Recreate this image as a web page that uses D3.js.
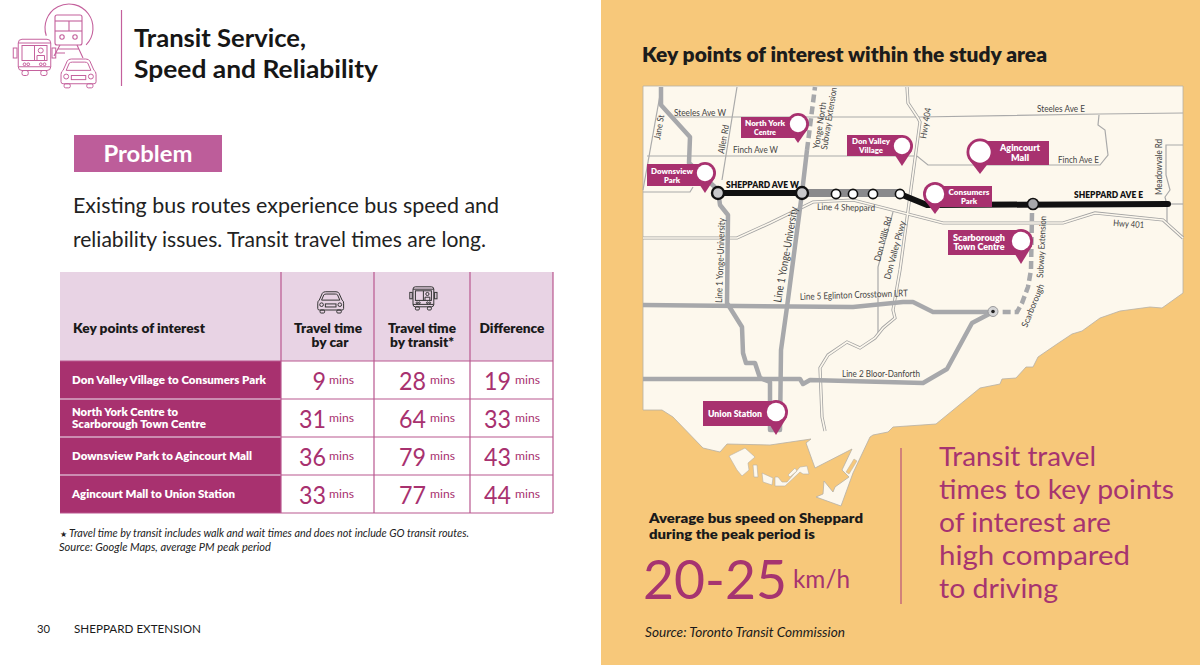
<!DOCTYPE html>
<html>
<head>
<meta charset="utf-8">
<title>Transit Service, Speed and Reliability</title>
<script src="https://cdn.jsdelivr.net/npm/d3@7/dist/d3.min.js"></script>
<style>
  html, body { margin: 0; padding: 0; background: #fff; }
  svg { display: block; }
  text { font-family: Lato, "Open Sans", sans-serif; }
</style>
</head>
<body>
<div id="chart"></div>
<script>
// table data
const routes = [
  'Don Valley Village to Consumers Park',
  'North York Centre to\nScarborough Town Centre',
  'Downsview Park to Agincourt Mall',
  'Agincourt Mall to Union Station'
]
const carMins = [9, 31, 36, 33]
const transitMins = [28, 64, 79, 77]
const diffMins = [19, 33, 43, 44]
const columns = ['route', 'car', 'transit', 'diff']

// map geometry, in map units
const land = [[643,86],[1183,86],[1183,293],[1162,308],[1150,307],[1120,311],[1100,318],[1082,331],[1072,334],[1057,344],[1038,357],[1033,367],[1026,367],[1016,378],[1002,379],[1000,384],[980,388],[936,424],[893,427],[888,432],[873,435],[870,437],[853,473],[841,506],[816,497],[823,494],[824,481],[833,492],[835,487],[849,477],[842,470],[852,449],[815,468],[806,443],[811,439],[770,445],[727,444],[720,452],[703,448],[673,417],[662,410],[643,410]]
const islands = [
  [[729,456],[745,448],[755,457],[748,463],[749,470],[742,476],[737,470]],
  [[753,465],[757,465],[758,477],[754,477]],
  [[762,473],[773,478],[772,485],[763,482]],
  [[775,477],[778,477],[782,482],[787,482],[800,467],[807,466],[809,474],[803,474],[800,472],[785,486],[775,486]],
  [[788,475],[795,468],[797,471],[790,477]]
]
const spitSlit = [[846,472],[854,459],[857,461],[849,474]]
const thinRoads = [
  [[673,117],[920,117],[1100,114],[1183,113]],
  [[647,156],[917,156],[928,165],[1100,165],[1108,155],[1107,147],[1105,130],[1098,125],[1099,115]],
  [[643,190],[660,95]],
  [[737,87],[722,180]],
  [[643,192],[690,192],[693,187]],
  [[893,212],[878,267],[878,335]],
  [[1183,145],[1166,145],[1166,175],[1170,190],[1165,197],[1167,205],[1167,222]],
  [[1167,204],[1183,204]]
]
const highways = [
  [[907,87],[908,103],[918,118],[920,122],[900,270],[893,310],[895,318],[883,328],[875,338],[860,348],[847,342],[828,355],[820,368],[822,417],[825,431]],
  [[643,238],[737,238],[770,223],[813,202],[853,200],[943,223],[1063,223],[1095,213],[1163,220],[1183,238]]
]
const subwayLines = [
  [[661,87],[661,105],[690,137],[689,163],[718,190],[720,205],[728,215],[727,303],[742,327],[743,353],[746,363],[755,363],[760,378],[770,382],[770,430],[780,430],[781,350],[787,307],[802,193],[807,150]],
  [[643,305],[853,307],[903,302],[913,302],[933,312],[993,312]],
  [[643,379],[800,379],[803,384],[810,380],[923,383],[947,369],[972,323],[993,312]]
]
const sheppardGrey = [[802,193],[900,193]]
const plannedLines = [
  [[807,150],[815,87]],
  [[1032,213],[1031,270],[1028,287],[1022,303],[1017,312],[1000,312]]
]
const sheppardNow = [
  [[718,193],[802,193]],
  [[900,194],[927,205],[1168,204]]
]
const openStations = [[836,194],[853,194],[873,194],[900,194]]
const majorStations = [[718,193],[802,193]]

const pinNames = ['North York\nCentre', 'Don Valley\nVillage', 'Downsview\nPark', 'Agincourt\nMall', 'Consumers\nPark', 'Scarborough\nTown Centre', 'Union Station']
const pinBoxes = [[741,117,797,138],[847,135,903,156],[647,164,705,186],[980,141,1049,165],[935,186,992,207],[948,230,1020,255],[703,401,775,426]]
const pinHeads = [[798,124,11],[902,146,11],[705,173,11],[980,152,13.5],[935,194,12],[1021,241,12],[776,412,12]]
const pinTips = [143, 166, 193, 174, 214, 264, 435]
const pinTextX = [765, 871, 672, 1020, 969, 979, 735]
const pinTextW = [[40, 22], [38, 24], [42, 16], [40, 18], [41, 16], [52, 51], [54]]

// name, x, y, rotate, size, weight, width
const mapLabels = [
  ['Steeles Ave W', 674, 116, 0, 9, 400, 52],
  ['Finch Ave W', 733, 153, 0, 9, 400, 45],
  ['Jane St', 660, 140, -80, 9, 400, 25],
  ['Allen Rd', 724, 154, -80, 9, 400, 29],
  ['Yonge North', 819, 149, -81, 9, 400, 47],
  ['Subway Extension', 827, 150, -81, 9, 400, 63],
  ['Line 1 Yonge-University', 722, 303, -88, 9.5, 400, 85],
  ['Line 1 Yonge-University', 781, 303, -80, 11, 400, 97],
  ['Line 4 Sheppard', 817, 210, 1, 9, 400, 58],
  ['SHEPPARD AVE W', 726, 188, 0, 9, 800, 73],
  ['Don Mills Rd', 880, 262, -75, 9, 400, 46],
  ['Don Valley Pkwy', 890, 280, -75, 9, 400, 60],
  ['Hwy 404', 926, 139, -80, 9, 400, 31],
  ['Steeles Ave E', 1037, 112, 0, 9, 400, 48],
  ['Finch Ave E', 1058, 163, 0, 9, 400, 41],
  ['SHEPPARD AVE E', 1074, 198, 0, 9, 800, 69],
  ['Hwy 401', 1113, 226, 4, 9, 400, 31],
  ['Meadowvale Rd', 1162, 195, -90, 9, 400, 56],
  ['Scarborough', 1027, 328, -68, 9, 400, 46],
  ['Subway Extension', 1043, 278, -87, 9, 400, 62],
  ['Line 5 Eglinton Crosstown LRT', 800, 300, -2, 9.5, 400, 108],
  ['Line 2 Bloor-Danforth', 842, 377, 0, 9.5, 400, 78]
]

const bigText = ['Transit travel', 'times to key points', 'of interest are', 'high compared', 'to driving']

const magenta = '#a8316f', rule = '#b9588f', orange = '#f7c87a', cream = '#fdf8ed', lineGrey = '#a7a8ab'

const svg = d3.select('#chart').append('svg').attr('width', 1200).attr('height', 665)
svg.append('rect').attr('x', 601).attr('y', 0).attr('width', 599).attr('height', 665).attr('fill', orange)

// little text helper, w = wanted width in px
function txt(p, x, y, s, o) {
  o = o || {}
  let t = p.append('text').attr('x', x).attr('y', y).text(s)
    .attr('font-size', o.size || 12)
    .attr('font-weight', o.weight || 400)
    .attr('font-style', o.style || 'normal')
    .attr('fill', o.fill || '#1a1a1a')
    .attr('text-anchor', o.anchor || 'start')
  if (o.w) t.attr('textLength', o.w).attr('lengthAdjust', 'spacingAndGlyphs')
  if (o.rotate) t.attr('transform', 'rotate(' + o.rotate + ' ' + x + ' ' + y + ')')
  return t
}

// icons, drawn in a 36 x 32 box
function busIcon(p, x, y, k, c) {
  let g = p.append('g').attr('transform', 'translate(' + x + ',' + y + ') scale(' + k + ')')
    .attr('fill', 'none').attr('stroke', c).attr('stroke-width', 1.1 / k * 0.9)
  g.append('rect').attr('x', 5).attr('y', 1).attr('width', 26).attr('height', 25).attr('rx', 3)
  g.append('line').attr('x1', 5).attr('x2', 31).attr('y1', 4).attr('y2', 4)
  g.append('rect').attr('x', 8).attr('y', 6).attr('width', 20).attr('height', 12)
  g.append('line').attr('x1', 18).attr('x2', 18).attr('y1', 6).attr('y2', 18)
  g.append('circle').attr('cx', 23).attr('cy', 10).attr('r', 2)
  g.append('path').attr('d', 'M20,18v-4h6v4')
  g.append('rect').attr('x', 1).attr('y', 8).attr('width', 3).attr('height', 8)
  g.append('rect').attr('x', 32).attr('y', 8).attr('width', 3).attr('height', 8)
  g.append('line').attr('x1', 5).attr('x2', 31).attr('y1', 23).attr('y2', 23)
  ;[10, 13, 23, 26].forEach(d => g.append('circle').attr('cx', d).attr('cy', 21).attr('r', 1.1))
  g.append('rect').attr('x', 8).attr('y', 26).attr('width', 5).attr('height', 4).attr('rx', 1.5)
  g.append('rect').attr('x', 23).attr('y', 26).attr('width', 5).attr('height', 4).attr('rx', 1.5)
}
function carIcon(p, x, y, k, c) {
  let g = p.append('g').attr('transform', 'translate(' + x + ',' + y + ') scale(' + k + ')')
    .attr('fill', 'none').attr('stroke', c).attr('stroke-width', 1.1 / k * 0.9)
  g.append('path').attr('d', 'M3,12 L7,3 Q8,1 11,1 H25 Q28,1 29,3 L33,12 Q35,13 35,16 V23 Q35,25 33,25 H3 Q1,25 1,23 V16 Q1,13 3,12 Z')
  g.append('path').attr('d', 'M6,12 L9,5 Q10,4 12,4 H24 Q26,4 27,5 L30,12 Z')
  g.append('circle').attr('cx', 6).attr('cy', 18).attr('r', 2.4)
  g.append('circle').attr('cx', 30).attr('cy', 18).attr('r', 2.4)
  g.append('rect').attr('x', 11).attr('y', 17).attr('width', 14).attr('height', 4)
  g.append('rect').attr('x', 4).attr('y', 25).attr('width', 6).attr('height', 4).attr('rx', 1.5)
  g.append('rect').attr('x', 26).attr('y', 25).attr('width', 6).attr('height', 4).attr('rx', 1.5)
}

// header of the left page
const pink = '#c4609c'
let head = svg.append('g').attr('fill', 'none').attr('stroke', pink).attr('stroke-width', 1.1)
head.append('path').attr('d', d3.arc()({ innerRadius: 24, outerRadius: 24, startAngle: -1.9, endAngle: 2.35 })).attr('transform', 'translate(69,28)')
head.append('rect').attr('x', 55).attr('y', 15).attr('width', 27).attr('height', 30).attr('rx', 2)
head.append('line').attr('x1', 55).attr('x2', 82).attr('y1', 21).attr('y2', 21)
head.append('line').attr('x1', 55).attr('x2', 82).attr('y1', 31).attr('y2', 31)
head.append('line').attr('x1', 69).attr('x2', 69).attr('y1', 21).attr('y2', 31)
head.append('circle').attr('cx', 62).attr('cy', 37).attr('r', 2.2)
head.append('circle').attr('cx', 75).attr('cy', 37).attr('r', 2.2)
head.append('path').attr('d', 'M60,45 L54,56 M77,45 L83,58 M58,49 H79 M56,53 H65')
busIcon(svg, 12, 38, 1.25, pink)
svg.append('rect').attr('x', 60).attr('y', 58).attr('width', 37).attr('height', 30).attr('fill', '#fff')
carIcon(svg, 60, 58, 1.03, pink)
svg.append('line').attr('x1', 121.5).attr('x2', 121.5).attr('y1', 10).attr('y2', 86).attr('stroke', pink).attr('stroke-width', 1.2)
txt(svg, 134, 47, 'Transit Service,', { size: 25, weight: 700, w: 172, fill: '#161616' })
txt(svg, 134, 78, 'Speed and Reliability', { size: 25, weight: 700, w: 244, fill: '#161616' })

svg.append('rect').attr('x', 74).attr('y', 135).attr('width', 148).attr('height', 37).attr('fill', '#bd5d9a')
txt(svg, 148, 162, 'Problem', { size: 22, weight: 700, fill: '#fff', anchor: 'middle', w: 89 })

txt(svg, 73, 213, 'Existing bus routes experience bus speed and', { size: 21, w: 426, fill: '#222' })
txt(svg, 73, 247, 'reliability issues. Transit travel times are long.', { size: 21, w: 413, fill: '#222' })

// table
const colX = d3.scaleOrdinal().domain(columns).range([60, 281, 374, 470])
const colEnd = 553
const rowY = d3.scaleBand().domain(routes).range([361, 513])
const table = svg.append('g')
table.append('rect').attr('x', 60).attr('y', 272).attr('width', colEnd - 60).attr('height', 89).attr('fill', '#e8d3e4')
table.selectAll('rect.row').data(routes).enter().append('rect').attr('class', 'row')
  .attr('x', 60).attr('y', d => rowY(d)).attr('width', colX('car') - 60).attr('height', rowY.bandwidth())
  .attr('fill', magenta)
table.selectAll('line.h').data(routes.map(d => rowY(d) + rowY.bandwidth()).concat([361])).enter().append('line').attr('class', 'h')
  .attr('x1', 60).attr('x2', colEnd).attr('y1', d => d).attr('y2', d => d)
  .attr('stroke', rule).attr('stroke-width', 1.2)
table.selectAll('line.hw').data(routes.slice(0, 3).map(d => rowY(d) + rowY.bandwidth())).enter().append('line').attr('class', 'hw')
  .attr('x1', 60).attr('x2', colX('car')).attr('y1', d => d).attr('y2', d => d)
  .attr('stroke', '#e8d3e4').attr('stroke-width', 1.2)
table.selectAll('line.v').data(['car', 'transit', 'diff']).enter().append('line').attr('class', 'v')
  .attr('x1', d => colX(d)).attr('x2', d => colX(d)).attr('y1', 272).attr('y2', 513)
  .attr('stroke', rule).attr('stroke-width', 1.2)
table.append('line').attr('x1', colEnd).attr('x2', colEnd).attr('y1', 272).attr('y2', 513).attr('stroke', rule).attr('stroke-width', 1.2)

txt(table, 73, 333, 'Key points of interest', { size: 13, weight: 800, w: 132 })
txt(table, 328, 333, 'Travel time', { size: 13, weight: 800, anchor: 'middle', w: 68 })
txt(table, 330, 347, 'by car', { size: 13, weight: 800, anchor: 'middle', w: 37 })
txt(table, 422, 333, 'Travel time', { size: 13, weight: 800, anchor: 'middle', w: 68 })
txt(table, 422, 347, 'by transit*', { size: 13, weight: 800, anchor: 'middle', w: 64 })
txt(table, 512, 333, 'Difference', { size: 13, weight: 800, anchor: 'middle', w: 65 })
carIcon(table, 317, 291, 0.76, '#333')
busIcon(table, 409, 286, 0.8, '#333')

const routeW = [[194], [106, 134], [180], [163]]
routes.forEach((r, i) => {
  let c = rowY(r) + rowY.bandwidth() / 2
  let lines = r.split('\n')
  lines.forEach((l, j) => {
    let y = lines.length > 1 ? c - 2.5 + j * 12 : c + 4
    txt(table, 72, y, l, { size: 11, weight: 800, fill: '#fff', w: routeW[i][j] })
  })
})
const valueCols = [[carMins, 326, 329], [transitMins, 426, 430], [diffMins, 511, 515]]
valueCols.forEach(vc => {
  vc[0].forEach((v, i) => {
    let c = rowY(routes[i]) + rowY.bandwidth() / 2
    txt(table, vc[1], c + 10, v, { size: 25, fill: magenta, anchor: 'end', w: String(v).length * 13.5 })
    txt(table, vc[2], c + 4, 'mins', { size: 12, fill: magenta, w: 25 })
  })
})

txt(svg, 60, 537, '\u2605', { size: 8, fill: '#222' })
txt(svg, 69, 537, 'Travel time by transit includes walk and wait times and does not include GO transit routes.', { size: 10.5, style: 'italic', w: 400, fill: '#222' })
txt(svg, 59, 551, 'Source: Google Maps, average PM peak period', { size: 10.5, style: 'italic', w: 212, fill: '#222' })
txt(svg, 37, 633, '30', { size: 11.5, w: 13 })
txt(svg, 74, 633, 'SHEPPARD EXTENSION', { size: 11.5, w: 127 })

// map
const mapX = d3.scaleLinear().domain([643, 1183]).range([643, 1183])
const mapY = d3.scaleLinear().domain([86, 510]).range([86, 510])
const pathOf = d3.line().x(d => mapX(d[0])).y(d => mapY(d[1]))
const map = svg.append('g')
map.append('path').attr('d', pathOf(land) + 'Z').attr('fill', cream).attr('stroke', '#b5b0a6').attr('stroke-width', 0.8)
map.append('path').attr('d', pathOf(spitSlit) + 'Z').attr('fill', orange).attr('stroke', '#b5b0a6').attr('stroke-width', 0.5)
map.selectAll('path.island').data(islands).enter().append('path').attr('class', 'island')
  .attr('d', d => pathOf(d) + 'Z').attr('fill', cream).attr('stroke', '#b5b0a6').attr('stroke-width', 0.6)
map.selectAll('path.road').data(thinRoads).enter().append('path').attr('class', 'road')
  .attr('d', pathOf).attr('fill', 'none').attr('stroke', '#aaaaaa').attr('stroke-width', 1.2)
map.selectAll('path.hwo').data(highways).enter().append('path').attr('class', 'hwo')
  .attr('d', pathOf).attr('fill', 'none').attr('stroke', '#a3a3a3').attr('stroke-width', 3.2)
map.selectAll('path.hwi').data(highways).enter().append('path').attr('class', 'hwi')
  .attr('d', pathOf).attr('fill', 'none').attr('stroke', cream).attr('stroke-width', 1.6)
map.selectAll('path.sub').data(subwayLines).enter().append('path').attr('class', 'sub')
  .attr('d', pathOf).attr('fill', 'none').attr('stroke', lineGrey).attr('stroke-width', 4.5).attr('stroke-linejoin', 'round')
map.append('path').attr('d', pathOf(sheppardGrey)).attr('fill', 'none').attr('stroke', '#8a8a8c').attr('stroke-width', 8)
map.selectAll('path.plan').data(plannedLines).enter().append('path').attr('class', 'plan')
  .attr('d', pathOf).attr('fill', 'none').attr('stroke', lineGrey).attr('stroke-width', 4.5).attr('stroke-dasharray', '8,4')
map.selectAll('path.now').data(sheppardNow).enter().append('path').attr('class', 'now')
  .attr('d', pathOf).attr('fill', 'none').attr('stroke', '#111').attr('stroke-width', 6).attr('stroke-linecap', 'round').attr('stroke-linejoin', 'round')
map.selectAll('circle.major').data(majorStations).enter().append('circle').attr('class', 'major')
  .attr('cx', d => mapX(d[0])).attr('cy', d => mapY(d[1])).attr('r', 6)
  .attr('fill', '#c9c9cb').attr('stroke', '#111').attr('stroke-width', 2.4)
map.selectAll('circle.open').data(openStations).enter().append('circle').attr('class', 'open')
  .attr('cx', d => mapX(d[0])).attr('cy', d => mapY(d[1])).attr('r', 4.6)
  .attr('fill', '#fff').attr('stroke', '#111').attr('stroke-width', 1.6)
map.append('circle').attr('cx', mapX(1033)).attr('cy', mapY(204)).attr('r', 5.5).attr('fill', lineGrey).attr('stroke', '#111').attr('stroke-width', 1.6)
map.append('circle').attr('cx', mapX(993)).attr('cy', mapY(311.5)).attr('r', 5).attr('fill', '#d5d5d6').attr('stroke', '#9a9a9c')
map.append('circle').attr('cx', mapX(993)).attr('cy', mapY(311.5)).attr('r', 1.8).attr('fill', '#222')

mapLabels.forEach(l => {
  txt(map, l[1], l[2], l[0], { size: l[4], weight: l[5], rotate: l[3], w: l[6], fill: l[5] > 500 ? '#111' : '#444' })
})

pinNames.forEach((name, i) => {
  let b = pinBoxes[i], h = pinHeads[i], tip = pinTips[i]
  map.append('rect').attr('x', mapX(b[0])).attr('y', mapY(b[1]))
    .attr('width', mapX(b[2]) - mapX(b[0])).attr('height', mapY(b[3]) - mapY(b[1])).attr('fill', magenta)
  let cx = mapX(h[0]), cy = mapY(h[1]), r = h[2], ty = mapY(tip)
  map.append('path').attr('d', 'M' + (cx - r * 0.92) + ',' + (cy + r * 0.42) + 'L' + cx + ',' + ty + 'L' + (cx + r * 0.92) + ',' + (cy + r * 0.42) + 'Z').attr('fill', magenta)
  map.append('circle').attr('cx', cx).attr('cy', cy).attr('r', r).attr('fill', magenta)
  map.append('circle').attr('cx', cx).attr('cy', cy).attr('r', r - 2.8).attr('fill', '#fff')
  let lines = name.split('\n')
  let big = i === 3 || i === 5 || i === 6
  lines.forEach((l, j) => {
    let y = (mapY(b[1]) + mapY(b[3])) / 2 + 3 + (j - (lines.length - 1) / 2) * (big ? 9.8 : 9)
    txt(map, pinTextX[i], y, l, { size: big ? 9 : 8, weight: 800, fill: '#fff', anchor: 'middle', w: pinTextW[i][j] })
  })
})

// right page text
txt(svg, 642, 62, 'Key points of interest within the study area', { size: 20, weight: 800, w: 405, fill: '#1c1c1c' })
txt(svg, 649, 523, 'Average bus speed on Sheppard', { size: 13.2, weight: 800, w: 214 })
txt(svg, 649, 539, 'during the peak period is', { size: 13.2, weight: 800, w: 166 })
txt(svg, 643, 599, '20-25', { size: 55, fill: '#a63470', w: 144 })
txt(svg, 793, 588, 'km/h', { size: 25, fill: '#a63470', w: 57 })
txt(svg, 645, 637, 'Source: Toronto Transit Commission', { size: 12.5, style: 'italic', w: 200 })
svg.append('line').attr('x1', 901).attr('x2', 901).attr('y1', 448).attr('y2', 604).attr('stroke', '#b9527a').attr('stroke-width', 1.2)
const bigW = [157, 235, 172, 191, 119]
bigText.forEach((t, i) => {
  txt(svg, 939, 466 + i * 33, t, { size: 27.5, fill: '#a63470', w: bigW[i] })
})
</script>
</body>
</html>
